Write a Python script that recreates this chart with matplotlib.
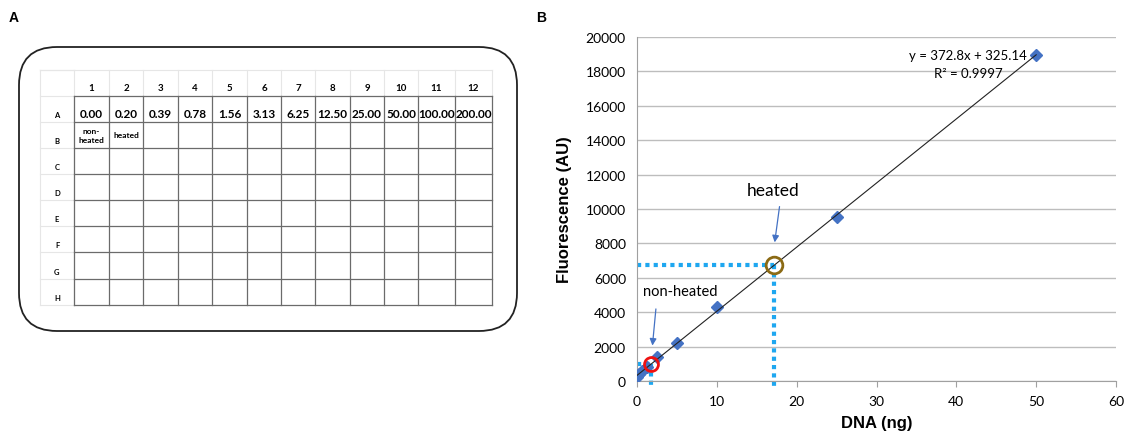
import matplotlib.pyplot as plt
import numpy as np
from matplotlib.patches import FancyBboxPatch

plt.rcParams['font.family'] = ['Lato', 'DejaVu Sans']

# 面板A：96孔板
col_labels = ['1', '2', '3', '4', '5', '6', '7', '8', '9', '10', '11', '12']
row_labels = ['A', 'B', 'C', 'D', 'E', 'F', 'G', 'H']
row_a_values = ['0.00', '0.20', '0.39', '0.78', '1.56', '3.13', '6.25',
                '12.50', '25.00', '50.00', '100.00', '200.00']
row_b_values = ['non-\nheated', 'heated']

# 面板B：标准曲线
dna_ng = [0, 0.3125, 0.625, 1.25, 2.5, 5, 10, 25, 50]
fluor = [250, 430, 560, 800, 1400, 2200, 4300, 9550, 18950]
slope, intercept, r2 = 372.8, 325.14, 0.9997
heated = (17.1, 6750)
non_heated = (1.8, 990)

W, H = 1124, 435
fig = plt.figure(figsize=(W / 100, H / 100), dpi=100)
bold_font = ['Liberation Sans', 'DejaVu Sans']

# ---------- A ----------
ax = fig.add_axes([0, 0, 520 / W, 1])
ax.set_xlim(0, 520)
ax.set_ylim(H, 0)
ax.axis('off')
box = FancyBboxPatch((19, 48), 498, 284, boxstyle='round,pad=0,rounding_size=38',
                     fc='none', ec='#222222', lw=1.3)
ax.add_patch(box)

col_edges = [40, 74, 109, 143, 178, 212, 247, 281, 315, 350, 384, 418, 455, 492]
row_edges = [71, 97, 123, 149, 175, 201, 227, 253, 280, 306]
# 浅色表头线
for x in col_edges[:2]:
    ax.plot([x, x], [row_edges[0], row_edges[-1]], color='#e6e6e6', lw=0.8)
for x in col_edges[2:]:
    ax.plot([x, x], [row_edges[0], row_edges[1]], color='#e6e6e6', lw=0.8)
for y in row_edges:
    ax.plot([col_edges[0], col_edges[1]], [y, y], color='#e6e6e6', lw=0.8)
ax.plot([col_edges[0], col_edges[-1]], [row_edges[0], row_edges[0]], color='#e6e6e6', lw=0.8)
# 主表格线
for x in col_edges[1:]:
    ax.plot([x, x], [row_edges[1], row_edges[-1]], color='#6b6b6b', lw=0.9)
for y in row_edges[1:]:
    ax.plot([col_edges[1], col_edges[-1]], [y, y], color='#6b6b6b', lw=0.9)

for i, lab in enumerate(col_labels):
    xc = (col_edges[i + 1] + col_edges[i + 2]) / 2
    ax.text(xc, row_edges[1] - 4, lab, ha='center', va='bottom', fontsize=7, fontweight='bold')
    ax.text(xc, row_edges[2] - 3, row_a_values[i], ha='center', va='bottom', fontsize=8.5, fontweight='bold')
for j, lab in enumerate(row_labels):
    yc = row_edges[j + 2] - 4
    ax.text((col_edges[0] + col_edges[1]) / 2, yc, lab, ha='center', va='bottom', fontsize=5.5, fontweight='bold')
for i, lab in enumerate(row_b_values):
    xc = (col_edges[i + 1] + col_edges[i + 2]) / 2
    ax.text(xc, (row_edges[2] + row_edges[3]) / 2, lab, ha='center', va='center', fontsize=6,
            fontweight='bold', linespacing=1.3)

fig.text(14 / W, 1 - 18 / H, 'A', fontsize=10, fontweight='bold', ha='center', va='center', family=bold_font)
fig.text(541 / W, 1 - 18 / H, 'B', fontsize=10, fontweight='bold', ha='center', va='center', family=bold_font)

# ---------- B ----------
axb = fig.add_axes([637 / W, (H - 382) / H, (1116 - 637) / W, (382 - 38) / H])
axb.set_xlim(0, 60)
axb.set_ylim(0, 20000)
axb.set_xticks(range(0, 61, 10))
axb.set_yticks(range(0, 20001, 2000))
axb.yaxis.grid(True, color='#bdbdbd', lw=1)
axb.set_axisbelow(True)
for s in ['top', 'right']:
    axb.spines[s].set_visible(False)
for s in ['left', 'bottom']:
    axb.spines[s].set_color('#a0a0a0')
axb.tick_params(axis='x', length=4, color='#a0a0a0', labelsize=10, pad=6)
axb.tick_params(axis='y', length=0, labelsize=10, pad=8)

lc = '#1ea7f0'
axb.plot([0, heated[0]], [heated[1], heated[1]], color=lc, lw=3, ls=(0, (1, 1)), zorder=2)
axb.plot([heated[0], heated[0]], [heated[1], -350], color=lc, lw=3, ls=(0, (1, 1)), clip_on=False, zorder=2)
axb.plot([0, non_heated[0]], [non_heated[1], non_heated[1]], color=lc, lw=3, ls=(0, (1, 1)), zorder=2)
axb.plot([non_heated[0], non_heated[0]], [non_heated[1], -350], color=lc, lw=3, ls=(0, (1, 1)), clip_on=False, zorder=2)

xf = np.array([0, 50])
axb.plot(xf, slope * xf + intercept, color='#222222', lw=0.8, zorder=4)
axb.plot(dna_ng, fluor, 'D', color='#4472c4', ms=6, zorder=3)
axb.plot(*heated, 'o', mfc='none', mec='#8b6a14', mew=2, ms=12, zorder=5)
axb.plot(*non_heated, 'o', mfc='none', mec='#ee1111', mew=2, ms=10, zorder=5)

ac = '#4472c4'
axb.annotate('', xy=(17.2, 7900), xytext=(17.9, 10300),
             arrowprops=dict(arrowstyle='-|>', color=ac, lw=0.9, mutation_scale=10))
axb.text(17.0, 11100, 'heated', ha='center', va='center', fontsize=12.5)
axb.annotate('', xy=(1.9, 1900), xytext=(2.4, 4350),
             arrowprops=dict(arrowstyle='-|>', color=ac, lw=0.9, mutation_scale=10))
axb.text(5.4, 5250, 'non-heated', ha='center', va='center', fontsize=10.5)

axb.text(41.5, 18950, f'y = {slope}x + {intercept}', ha='center', va='center', fontsize=9.5)
axb.text(41.5, 17900, f'R² = {r2}', ha='center', va='center', fontsize=9.5)

axb.set_xlabel('DNA (ng)', fontsize=12, fontweight='bold', labelpad=6, family=bold_font)
axb.set_ylabel('Fluorescence (AU)', fontsize=12, fontweight='bold', labelpad=10, family=bold_font)

fig.savefig('out.png', dpi=100)
